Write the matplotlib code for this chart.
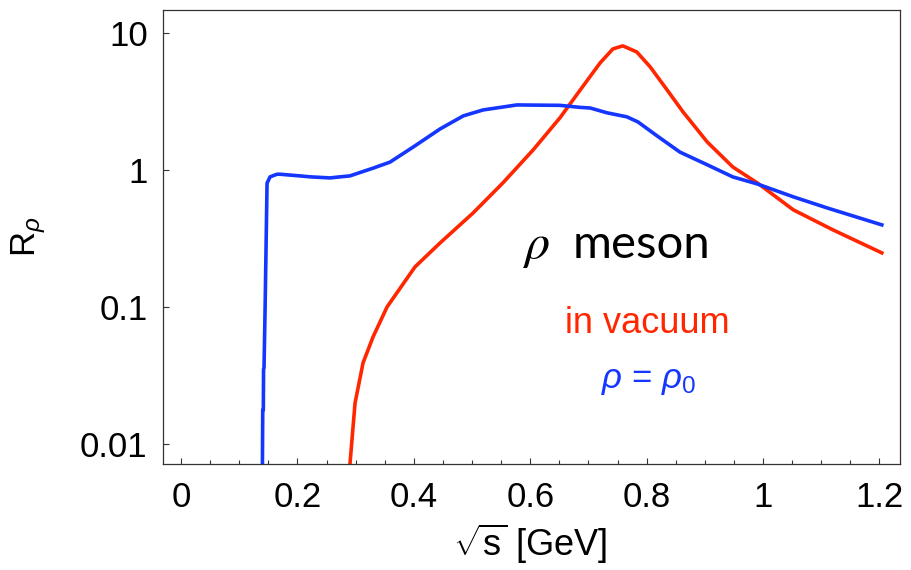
import numpy as np
import matplotlib
matplotlib.use('Agg')
import matplotlib.pyplot as plt

plt.rcParams['font.family'] = ['Liberation Sans', 'DejaVu Sans']
plt.rcParams['mathtext.fontset'] = 'custom'
plt.rcParams['mathtext.rm'] = 'Liberation Sans'
plt.rcParams['mathtext.it'] = 'Liberation Sans:italic'

# rho meson spectral ratio, in medium (rho = rho0)
sqrt_s_med = [0.1395, 0.1404, 0.1414, 0.1418, 0.1426, 0.1445, 0.1478, 0.153, 0.165,
              0.17, 0.2045, 0.222, 0.256, 0.273, 0.290, 0.330, 0.359, 0.399,
              0.445, 0.485, 0.519, 0.577, 0.651, 0.686, 0.703, 0.732, 0.766, 0.785,
              0.818, 0.857, 0.904, 0.948, 0.990, 1.052, 1.110, 1.204]
R_med = [0.004, 0.0177, 0.0177, 0.035, 0.036, 0.1, 0.80, 0.89, 0.93,
         0.93, 0.904, 0.89, 0.874, 0.89, 0.904, 1.03, 1.14, 1.47,
         1.99, 2.48, 2.74, 2.98, 2.96, 2.86, 2.83, 2.61, 2.44, 2.24,
         1.77, 1.35, 1.09, 0.889, 0.79, 0.636, 0.528, 0.397]

# in vacuum
sqrt_s_vac = [0.289, 0.2904, 0.299, 0.3127, 0.3299, 0.354, 0.402, 0.445, 0.502,
              0.553, 0.605, 0.651, 0.686, 0.720, 0.742, 0.759, 0.783, 0.806,
              0.835, 0.8625, 0.904, 0.948, 0.990, 1.052, 1.120, 1.204]
R_vac = [0.005, 0.00727, 0.0199, 0.039, 0.0604, 0.100, 0.196, 0.293, 0.486,
         0.804, 1.40, 2.40, 3.84, 6.04, 7.64, 8.04, 7.26, 5.65,
         3.84, 2.65, 1.60, 1.05, 0.804, 0.511, 0.365, 0.248]

fig = plt.figure(figsize=(9.12, 5.70), dpi=100)
ax = fig.add_axes([0.1787, 0.186, 0.808, 0.7965])

red = '#ff2600'
blue = '#1536ff'
ax.plot(sqrt_s_vac, R_vac, color=red, lw=2.6, solid_joinstyle='round')
ax.plot(sqrt_s_med, R_med, color=blue, lw=2.6, solid_joinstyle='round')

ax.set_yscale('log')
ax.set_xlim(-0.031, 1.235)
ax.set_ylim(0.00714, 14.7)
ax.set_yticks([0.01, 0.1, 1, 10])
ax.set_yticklabels(['0.01', '0.1', '1', '10'])
ax.yaxis.set_minor_locator(matplotlib.ticker.NullLocator())
ax.set_xticks([0, 0.2, 0.4, 0.6, 0.8, 1.0, 1.2])
ax.set_xticklabels(['0', '0.2', '0.4', '0.6', '0.8', '1', '1.2'])
ax.set_xticks(np.arange(0.05, 1.21, 0.05), minor=True)
ax.tick_params(which='both', direction='in', labelsize=25, top=False, right=False,
               width=0.8, color='#333333')
ax.tick_params(axis='x', which='major', length=4, pad=12)
ax.tick_params(axis='x', which='minor', length=3)
ax.tick_params(axis='y', which='major', length=4, pad=11)
for sp in ax.spines.values():
    sp.set_linewidth(0.9)
    sp.set_color('#333333')

ax.set_xlabel(r'$\sqrt{\mathrm{s}}$ [GeV]', fontsize=26)
ax.xaxis.set_label_coords(0.498, -0.128)
ax.set_ylabel(r'R$_\rho$', fontsize=25)
ax.yaxis.set_label_coords(-0.156, 0.5)

ax.text(0.586, 0.228, r'$\rho$', fontsize=36, color='black', ha='left', va='baseline',
        math_fontfamily='stix')
ax.text(0.672, 0.228, 'meson', fontsize=34, color='black', ha='left', va='baseline',
        family=['Lato', 'DejaVu Sans'])
ax.text(0.8015, 0.0646, 'in vacuum', fontsize=26, color=red, ha='center', va='baseline')
ax.text(0.803, 0.0256, r'$\rho$ = $\rho_0$', fontsize=25, color=blue, ha='center', va='baseline')

fig.savefig('out.png', dpi=100)
